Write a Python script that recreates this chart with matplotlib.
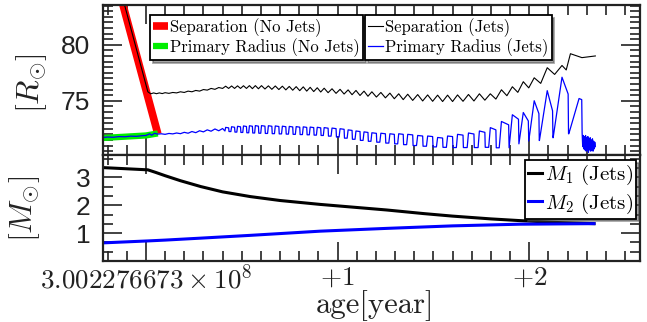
import numpy as np
import matplotlib
matplotlib.use("Agg")
import matplotlib.pyplot as plt
from matplotlib.ticker import FixedLocator, FixedFormatter, MultipleLocator

plt.rcParams['mathtext.fontset'] = 'cm'
plt.rcParams['axes.unicode_minus'] = False

# ---------------- data (years after 3.002276673e8) ----------------
age_ticks = [0, 1, 2]
age_ticklabels = [r'$3.002276673\times10^{8}$', r'$+1$', r'$+2$']

# No-jets run
sep_nojets_t = [-0.13, 0.062]
sep_nojets_v = [84.2, 72.05]
rad_nojets_t = [-0.224, -0.10, 0.0, 0.062]
rad_nojets_v = [71.68, 71.80, 71.90, 72.08]

# Jets run: early part
sep_early_t = [-0.12, 0.01, 0.025, 0.04, 0.055, 0.07, 0.085, 0.10, 0.12, 0.14, 0.16, 0.18,
               0.20, 0.22, 0.24, 0.26, 0.28, 0.30, 0.32, 0.34, 0.36, 0.38, 0.40]
sep_early_v = [84.1, 75.80, 75.62, 75.70, 75.63, 75.70, 75.64, 75.72, 75.66, 75.74, 75.70, 75.80,
               75.74, 75.86, 75.80, 75.92, 75.86, 76.00, 75.95, 76.10, 76.02, 76.18, 76.10]
rad_early_t = [-0.224, -0.20, -0.17, -0.14, -0.11, -0.08, -0.05, -0.02, 0.0, 0.02, 0.03, 0.045,
               0.06, 0.08, 0.10, 0.12, 0.14, 0.16, 0.18, 0.20, 0.22, 0.24, 0.26, 0.28, 0.30,
               0.32, 0.34, 0.36, 0.38, 0.40]
rad_early_v = [71.72, 71.76, 71.74, 71.80, 71.78, 71.84, 71.82, 71.88, 71.90, 72.05, 71.92, 72.10,
               72.02, 72.05, 72.00, 72.08, 72.04, 72.12, 72.06, 72.18, 72.10, 72.25, 72.15, 72.32,
               72.22, 72.40, 72.28, 72.48, 72.32, 72.52]

# Jets run: oscillation cycles
cycle_t = [0.416, 0.447, 0.478, 0.509, 0.540, 0.571, 0.603, 0.639, 0.675, 0.712, 0.748, 0.784,
           0.821, 0.857, 0.894, 0.930, 0.971, 1.013, 1.055, 1.096, 1.138, 1.179, 1.226, 1.273,
           1.319, 1.366, 1.418, 1.470, 1.522, 1.574, 1.626, 1.683, 1.740, 1.797, 1.855, 1.912,
           1.969, 2.026, 2.094, 2.171, 2.260]
sep_hi = [76.30, 76.32, 76.33, 76.34, 76.35, 76.35, 76.35, 76.33, 76.32, 76.30, 76.28, 76.26,
          76.24, 76.20, 76.16, 76.12, 76.07, 76.02, 75.97, 75.92, 75.86, 75.80, 75.74, 75.68,
          75.62, 75.58, 75.55, 75.52, 75.50, 75.50, 75.52, 75.56, 75.62, 75.62, 75.98, 76.25,
          76.70, 77.05, 77.95, 78.15]
sep_lo = [76.10, 76.10, 76.10, 76.10, 76.08, 76.07, 76.05, 76.02, 76.00, 75.97, 75.94, 75.90,
          75.86, 75.82, 75.78, 75.72, 75.66, 75.60, 75.54, 75.47, 75.40, 75.33, 75.26, 75.18,
          75.10, 75.03, 74.98, 74.95, 74.93, 74.93, 74.95, 74.98, 75.05, 75.15, 75.45, 75.75,
          76.15, 76.55, 77.35, 77.75]
sep_tail_t = [2.215, 2.275, 2.345]
sep_tail_v = [79.2, 78.85, 79.0]

rad_hi = [72.62, 72.68, 72.72, 72.75, 72.77, 72.78, 72.78, 72.77, 72.75, 72.73, 72.71, 72.69,
          72.67, 72.65, 72.63, 72.60, 72.56, 72.50, 72.40, 72.30, 72.22, 72.14, 72.10, 72.05,
          72.05, 72.00, 71.90, 71.85, 71.72, 71.85, 72.00, 72.12, 72.30, 72.60, 73.15, 73.75,
          73.95, 75.00, 75.90, 77.10, 75.20]
rad_end = [72.58, 72.63, 72.67, 72.70, 72.72, 72.73, 72.73, 72.72, 72.70, 72.68, 72.66, 72.64,
           72.62, 72.60, 72.58, 72.55, 72.51, 72.45, 72.35, 72.25, 72.17, 72.09, 72.05, 72.00,
           72.00, 71.95, 71.85, 71.80, 71.67, 71.80, 71.93, 72.03, 72.18, 72.40, 72.85, 73.35,
           73.20, 73.85, 74.10, 75.60, 75.10]
rad_lo = [72.30, 72.25, 72.20, 72.17, 72.14, 72.12, 72.10, 72.08, 72.06, 72.04, 72.02, 72.00,
          71.98, 71.96, 71.93, 71.90, 71.84, 71.76, 71.66, 71.56, 71.46, 71.38, 71.30, 71.22,
          71.15, 71.08, 71.00, 70.94, 70.88, 70.84, 70.82, 70.82, 70.82, 70.84, 70.80, 70.80,
          71.15, 71.40, 71.45, 71.70, 72.05]
rad_rise = [0.12] * 33 + [0.15, 0.2, 0.3, 0.4, 0.5, 0.6, 0.6, 0.6]
rad_tail_t = [2.276, 2.279, 2.282, 2.285, 2.288, 2.291, 2.294, 2.297, 2.300, 2.303, 2.306, 2.309,
              2.312, 2.315, 2.318, 2.321, 2.324, 2.327, 2.330, 2.333, 2.336, 2.339, 2.342, 2.345]
rad_tail_v = [72.14, 70.9, 71.9, 70.7, 71.8, 70.6, 71.9, 70.5, 71.7, 70.6, 71.8, 70.4,
              71.6, 70.6, 71.7, 70.5, 71.5, 70.6, 71.6, 70.5, 71.4, 70.7, 71.3, 70.9]

# Masses (Jets run)
m1_t = [-0.224, 0.01, 0.05, 0.10, 0.18, 0.286, 0.40, 0.545, 0.70, 0.909, 1.10, 1.256, 1.45,
        1.60, 1.80, 1.948, 2.15, 2.338]
m1_v = [3.35, 3.27, 3.18, 3.06, 2.88, 2.67, 2.48, 2.31, 2.17, 2.03, 1.92, 1.83, 1.70,
        1.61, 1.51, 1.45, 1.38, 1.34]
m2_t = [-0.224, 0.01, 0.10, 0.286, 0.545, 0.909, 1.256, 1.60, 1.948, 2.338]
m2_v = [0.65, 0.72, 0.75, 0.82, 0.92, 1.07, 1.17, 1.26, 1.32, 1.34]

# ---------------- assemble the oscillating series ----------------
sep_t = list(sep_early_t)
sep_v = list(sep_early_v)
for i in range(len(sep_hi)):
    sep_t.append(cycle_t[i]); sep_v.append(sep_hi[i])
    nxt = cycle_t[i + 1] if i + 1 < len(sep_hi) else sep_tail_t[0]
    sep_t.append(0.5 * (cycle_t[i] + nxt)); sep_v.append(sep_lo[i])
sep_t += sep_tail_t
sep_v += sep_tail_v

rad_t = list(rad_early_t)
rad_v = list(rad_early_v)
n = len(cycle_t)
for i in range(n):
    p_prev = cycle_t[i] - cycle_t[i - 1] if i > 0 else cycle_t[1] - cycle_t[0]
    p_next = cycle_t[i + 1] - cycle_t[i] if i + 1 < n else rad_tail_t[0] - cycle_t[i]
    rad_t.append(cycle_t[i] - rad_rise[i] * p_prev); rad_v.append(rad_lo[i])
    rad_t.append(cycle_t[i]); rad_v.append(rad_hi[i])
    if i + 1 < n:
        if rad_rise[i + 1] < 0.3:
            drop = cycle_t[i] + 0.5 * p_next
        else:
            drop = cycle_t[i + 1] - (rad_rise[i + 1] + 0.04) * p_next
        nlo = rad_lo[i + 1]
    else:
        drop = rad_tail_t[0] - 0.002
        nlo = rad_tail_v[0]
    rad_t.append(drop); rad_v.append(rad_end[i])
    rad_t.append(drop + 0.002); rad_v.append(nlo)
rad_t += rad_tail_t
rad_v += rad_tail_v

# ---------------- figure ----------------
fig = plt.figure(figsize=(6.47, 3.22), dpi=100)
L, R = 103 / 647, 640 / 647
ax1 = fig.add_axes([L, 1 - 154.5 / 322, R - L, 149.5 / 322])
ax2 = fig.add_axes([L, 1 - 261 / 322, R - L, 106.5 / 322], sharex=ax1)

cm = 'cmr10'
l_red, = ax1.plot(sep_nojets_t, sep_nojets_v, color='#ff0000', lw=5.5, solid_capstyle='butt',
                  label='Separation (No Jets)')
l_grn, = ax1.plot(rad_nojets_t, rad_nojets_v, color='#00ee00', lw=4.5, solid_capstyle='butt',
                  label='Primary Radius (No Jets)')
l_blk, = ax1.plot(sep_t, sep_v, color='black', lw=0.8, label='Separation (Jets)')
l_blu, = ax1.plot(rad_t, rad_v, color='#0000ff', lw=0.9, label='Primary Radius (Jets)')

ax2.plot(m1_t, m1_v, color='black', lw=2.2, label=r'$M_1$ (Jets)')
ax2.plot(m2_t, m2_v, color='#0000ff', lw=2.2, label=r'$M_2$ (Jets)')

ax1.set_xlim(-0.224, 2.578)
ax1.set_ylim(70.2, 83.55)
ax2.set_ylim(0, 3.82)

for ax in (ax1, ax2):
    ax.xaxis.set_major_locator(FixedLocator(age_ticks))
    ax.xaxis.set_major_formatter(FixedFormatter(age_ticklabels))
    ax.xaxis.set_minor_locator(MultipleLocator(0.1))
    ax.tick_params(which='both', direction='in', top=True, right=True, width=1.2, color='#222222')
    ax.tick_params(which='major', length=14)
    ax.tick_params(which='minor', length=7)
    for s in ax.spines.values():
        s.set_linewidth(1.6)
        s.set_color('#222222')

ax1.yaxis.set_major_locator(FixedLocator([75, 80]))
ax1.yaxis.set_minor_locator(MultipleLocator(0.5))
ax2.yaxis.set_major_locator(FixedLocator([1, 2, 3]))
ax2.yaxis.set_minor_locator(MultipleLocator(1 / 3))
ax1.tick_params(axis='x', labelbottom=False)
ax1.tick_params(axis='y', pad=9)
ax2.tick_params(axis='y', pad=9)
ax2.tick_params(axis='x', pad=2.5, labelsize=19.5)
for ax in (ax1, ax2):
    for lab in ax.get_yticklabels():
        lab.set_fontfamily('Liberation Sans')
        lab.set_fontsize(19)
        lab.set_color('#222222')
for lab in ax2.get_xticklabels():
    lab.set_color('#222222')

fig.text(32 / 647, 1 - 83 / 322, r'$[R_{\odot}]$', rotation=90, ha='center', va='center',
         fontsize=23, color='#222222')
fig.text(25 / 647, 1 - 209 / 322, r'$[M_{\odot}]$', rotation=90, ha='center', va='center',
         fontsize=23, color='#222222')
fig.text(375 / 647, 1 - 306 / 322, 'age[year]', ha='center', va='center',
         fontsize=22, fontfamily=cm, color='#222222')

leg_kw = dict(prop={'family': cm, 'size': 12}, handlelength=0.9, handletextpad=0.1,
              borderpad=0.2, labelspacing=0.08, fancybox=False, shadow=True,
              edgecolor='black', framealpha=1, borderaxespad=0)
lg1 = ax1.legend(handles=[l_red, l_grn], loc='upper left',
                 bbox_to_anchor=(150 / 647, 1 - 15 / 322), bbox_transform=fig.transFigure, **leg_kw)
lg1.get_frame().set_linewidth(1.3)
ax1.add_artist(lg1)
lg2 = ax1.legend(handles=[l_blk, l_blu], loc='upper left',
                 bbox_to_anchor=(365 / 647, 1 - 15 / 322), bbox_transform=fig.transFigure, **leg_kw)
lg2.get_frame().set_linewidth(1.3)

lg3 = ax2.legend(loc='upper right', bbox_to_anchor=(636 / 647, 1 - 160 / 322),
                 bbox_transform=fig.transFigure, prop={'family': cm, 'size': 15},
                 handlelength=0.65, handletextpad=0.15, borderpad=0.15, labelspacing=0.2,
                 fancybox=False, shadow=True, edgecolor='black', framealpha=1, borderaxespad=0)
lg3.get_frame().set_linewidth(1.3)

fig.savefig('out.png', dpi=100)
